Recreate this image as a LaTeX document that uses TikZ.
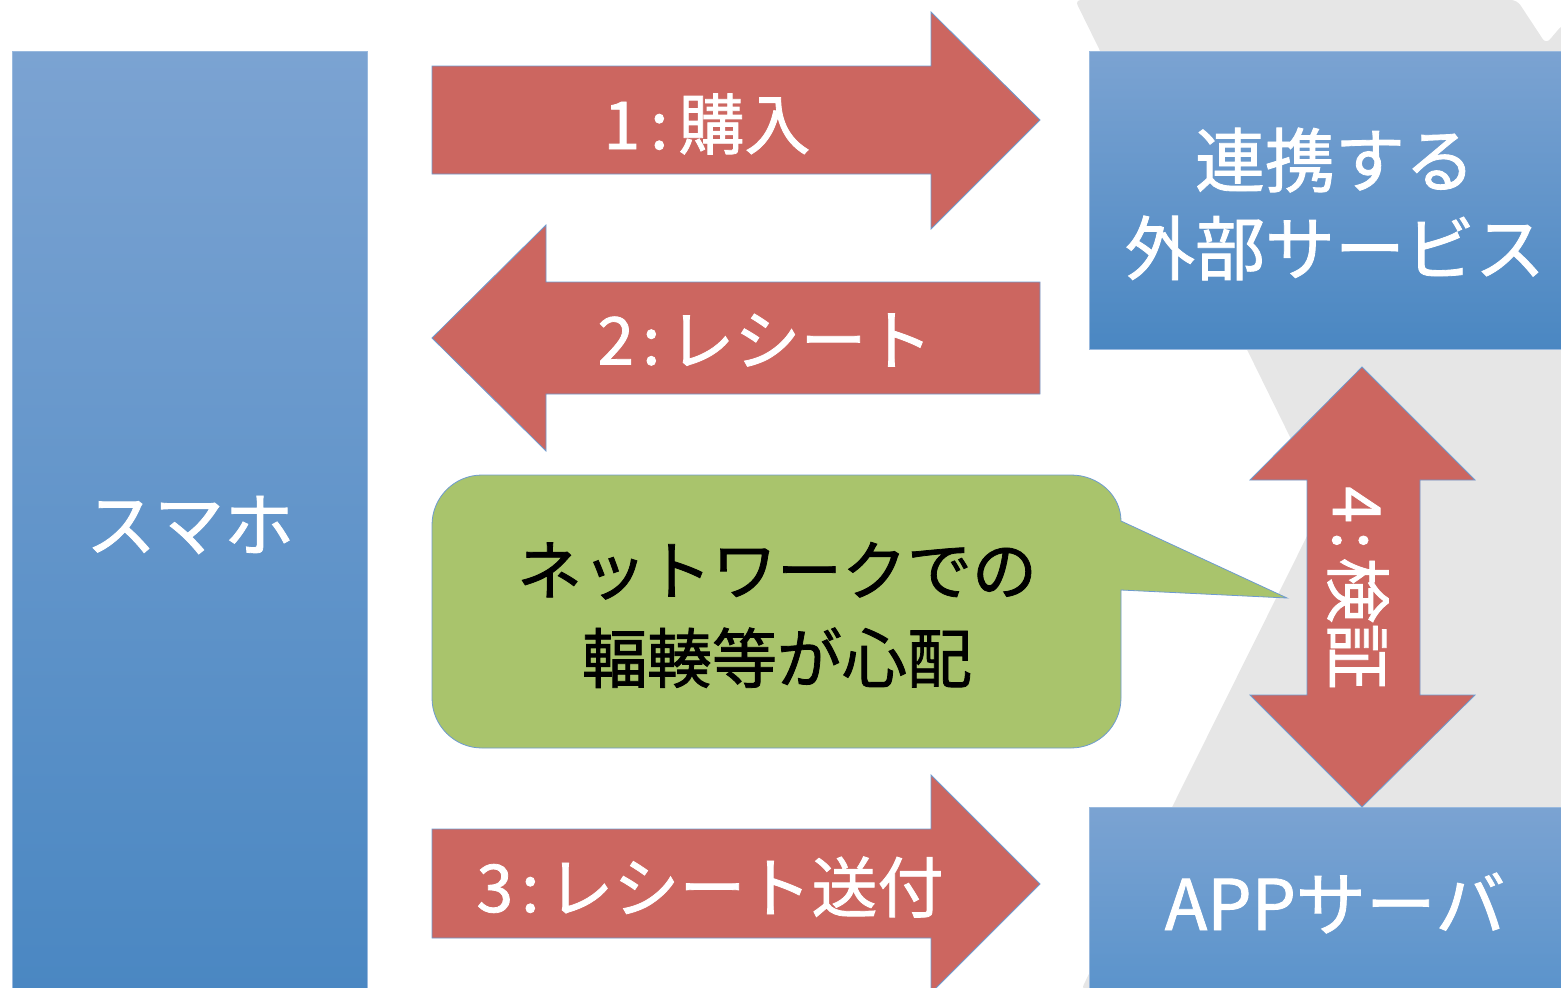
\documentclass[tikz,border=0pt]{standalone}
\usepackage{fontspec}
\setmainfont{Noto Sans CJK JP}
\newfontfamily\medfont{Noto Sans CJK JP}[FakeBold=1.2]
\definecolor{bggray}{HTML}{E6E6E6}
\definecolor{bluetop}{HTML}{7BA3D2}
\definecolor{bluebot}{HTML}{4A87C2}
\definecolor{bluemid}{HTML}{5A93CB}
\definecolor{arrowred}{HTML}{CC6660}
\definecolor{edgeblue}{HTML}{6E9BD0}
\definecolor{callgreen}{HTML}{A9C46C}
\tikzset{
  bluebox/.style={draw=edgeblue!70!white, line width=0.8pt},
  redarrow/.style={fill=arrowred, draw=edgeblue, line width=0.8pt, line join=miter},
  whitelabel/.style={text=white, font=\medfont\fontsize{70}{88}\selectfont, inner sep=0pt, align=center},
  arrowlabel/.style={whitelabel, font=\medfont\fontsize{66}{80}\selectfont},
  blacklabel/.style={text=black, font=\medfont\fontsize{65}{88}\selectfont, inner sep=0pt, align=center},
}
\begin{document}
\begin{tikzpicture}[x=1pt,y=-1pt]
\useasboundingbox (0,0) rectangle (1561,988);
\clip (0,0) rectangle (1561,988);
% background decoration
\fill[bggray, rounded corners=6pt] (1075,0) -- (1517,0) -- (1546,44) -- (1563,24) -- (1563,990) -- (1081,990) -- (1323,504) -- cycle;
% left box
\shade[bluebox, top color=bluetop, bottom color=bluebot] (12,51) rectangle (367,995);
\node[whitelabel] (smaho) at (190,525) {スマホ};
% top right box
\shade[bluebox, top color=bluetop, bottom color=bluebot] (1089,51) rectangle (1566,349);
\node[whitelabel] (gaibu) at (1335,204) {連携する\\外部サービス};
% bottom right box
\shade[bluebox, top color=bluetop, bottom color=bluemid] (1089,807) rectangle (1566,995);
\node[whitelabel] (app) at (1335,903) {APPサーバ};
% arrow 1
\draw[redarrow] (432,66) -- (931,66) -- (931,12) -- (1040,120) -- (931,229) -- (931,174) -- (432,174) -- cycle;
\node[arrowlabel] (a1) at (707,124) {1\hspace{10pt}:\hspace{10pt}購入};
% arrow 2
\draw[redarrow] (1040,282) -- (546,282) -- (546,225) -- (432,338) -- (546,451) -- (546,394) -- (1040,394) -- cycle;
\node[arrowlabel] (a2) at (765,340) {2\hspace{8pt}:\hspace{8pt}レシート};
% arrow 3
\draw[redarrow] (432,829) -- (931,829) -- (931,775) -- (1040,884) -- (931,993) -- (931,938) -- (432,938) -- cycle;
\node[arrowlabel] (a3) at (710,887) {3\hspace{8pt}:\hspace{8pt}レシート送付};
% arrow 4 (vertical double)
\draw[redarrow] (1362,367) -- (1475,480) -- (1420,480) -- (1420,695) -- (1475,695) -- (1362,807) -- (1250,695) -- (1307,695) -- (1307,480) -- (1250,480) -- cycle;
\node[arrowlabel, rotate=-90] (a4) at (1358,588) {4\hspace{8pt}:\hspace{8pt}検証};
% callout
\draw[fill=callgreen, draw=edgeblue, line width=0.8pt]
  (482,475) -- (1071,475) .. controls (1098.6,475) and (1121,495.6) .. (1121,521)
  -- (1287,598) -- (1121,590) -- (1121,698)
  .. controls (1121,725.6) and (1098.6,748) .. (1071,748) -- (482,748)
  .. controls (454.4,748) and (432,725.6) .. (432,698) -- (432,525)
  .. controls (432,497.4) and (454.4,475) .. (482,475) -- cycle;
\node[blacklabel] (call) at (777,615) {ネットワークでの\\輻輳等が心配};
\end{tikzpicture}
\end{document}
